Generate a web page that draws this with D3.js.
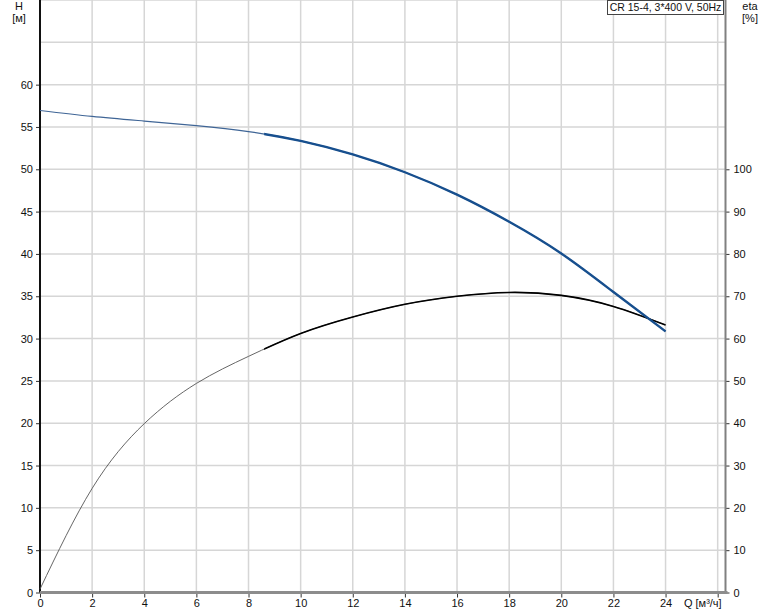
<!DOCTYPE html>
<html>
<head>
<meta charset="utf-8">
<script src="https://cdn.jsdelivr.net/npm/d3@7"></script>
<style>
  body { margin: 0; background: #fff; }
  svg { display: block; font-family: "Liberation Sans", Arial, sans-serif; }
</style>
</head>
<body>
<svg id="chart" width="774" height="611"></svg>
<script>
// pump curve values
var qH = [0, 2, 4, 6, 8, 10, 12, 14, 16, 18, 20, 22, 24];
var headH = [56.95, 56.25, 55.7, 55.15, 54.45, 53.35, 51.75, 49.65, 47.0, 43.8, 40.05, 35.5, 30.85];

var qEta = [0, 2, 4, 6, 8, 10, 12, 14, 16, 18, 20, 22, 24];
var etaVals = [0.8, 24.6, 39.9, 49.4, 55.8, 61.2, 65.1, 68.1, 70.0, 70.9, 70.2, 67.6, 63.2];

var qTicks = [0, 2, 4, 6, 8, 10, 12, 14, 16, 18, 20, 22, 24];
var hTicks = [0, 5, 10, 15, 20, 25, 30, 35, 40, 45, 50, 55, 60];
var etaTicks = [0, 10, 20, 30, 40, 50, 60, 70, 80, 90, 100];
var opStart = 8.6; // start of the bold (operating) part of both curves
var legendText = "CR 15-4, 3*400 V, 50Hz";

var svg = d3.select("#chart");
var plotL = 40, plotR = 725.5, plotB = 592.5, plotT = 0;

var x = d3.scaleLinear().domain([0, 26.3]).range([plotL, plotR]);
var y = d3.scaleLinear().domain([0, 70]).range([plotB, plotT]);
var yEta = d3.scaleLinear().domain([0, 140]).range([plotB, plotT]);

// grid
var grid = svg.append("g").attr("stroke", "#d6d6d6").attr("stroke-width", 1.5);
d3.range(0, 27, 2).forEach(function(q) {
  grid.append("line").attr("x1", x(q)).attr("x2", x(q)).attr("y1", plotT).attr("y2", plotB);
});
d3.range(5, 71, 5).forEach(function(h) {
  grid.append("line").attr("x1", plotL).attr("x2", plotR).attr("y1", y(h)).attr("y2", y(h));
});

// axes
var axL = svg.append("g").attr("transform", "translate(" + plotL + ",0)")
  .call(d3.axisLeft(y).tickValues(hTicks).tickSize(4).tickPadding(3));
var axR = svg.append("g").attr("transform", "translate(" + plotR + ",0)")
  .call(d3.axisRight(yEta).tickValues(etaTicks).tickSize(4).tickPadding(4));
var axB = svg.append("g").attr("transform", "translate(0," + plotB + ")")
  .call(d3.axisBottom(x).tickValues(qTicks.concat([26])).tickSize(5).tickPadding(2)
    .tickFormat(function(d) { return d === 26 ? "" : d; }));

[axL, axR, axB].forEach(function(a) {
  a.selectAll(".domain").remove();
  a.selectAll("text").attr("fill", "#111").style("font-size", "11px").style("font-family", "Liberation Sans, Arial, sans-serif");
  a.selectAll("line").attr("stroke", "#333");
});

svg.append("line").attr("x1", plotL).attr("x2", plotL).attr("y1", plotT).attr("y2", plotB)
  .attr("stroke", "#111").attr("stroke-width", 2);
svg.append("line").attr("x1", plotR).attr("x2", plotR).attr("y1", plotT).attr("y2", plotB)
  .attr("stroke", "#808080").attr("stroke-width", 2);
svg.append("line").attr("x1", plotL).attr("x2", plotR + 2).attr("y1", plotB).attr("y2", plotB)
  .attr("stroke", "#8c8c8c").attr("stroke-width", 3);

// curves
svg.append("defs").append("clipPath").attr("id", "op")
  .append("rect").attr("x", x(opStart)).attr("y", 0).attr("width", plotR - x(opStart)).attr("height", 611);

var lineH = d3.line().curve(d3.curveNatural)
  .x(function(d, i) { return x(qH[i]); }).y(function(d) { return y(d); });
var lineEta = d3.line().curve(d3.curveNatural)
  .x(function(d, i) { return x(qEta[i]); }).y(function(d) { return yEta(d); });

svg.append("path").attr("d", lineEta(etaVals)).attr("fill", "none")
  .attr("stroke", "#555").attr("stroke-width", 0.9);
svg.append("path").attr("d", lineEta(etaVals)).attr("fill", "none")
  .attr("stroke", "#000").attr("stroke-width", 1.6).attr("clip-path", "url(#op)");
svg.append("path").attr("d", lineH(headH)).attr("fill", "none")
  .attr("stroke", "#3f6596").attr("stroke-width", 1.2);
svg.append("path").attr("d", lineH(headH)).attr("fill", "none")
  .attr("stroke", "#174f8e").attr("stroke-width", 2.4).attr("clip-path", "url(#op)");

// labels
var lab = svg.append("g").attr("fill", "#111").style("font-size", "11px").attr("text-anchor", "middle");
lab.append("text").attr("x", 19).attr("y", 10).text("H");
lab.append("text").attr("x", 19).attr("y", 22).text("[м]");
lab.append("text").attr("x", 750).attr("y", 10).text("eta");
lab.append("text").attr("x", 750).attr("y", 22).text("[%]");
lab.append("text").attr("x", x(26) + 4).attr("y", 607).attr("text-anchor", "end").text("Q [м³/ч]");

// legend box
var lg = svg.append("g");
lg.append("rect").attr("x", 607.5).attr("y", 0.5).attr("width", 116).attr("height", 14)
  .attr("fill", "#fff").attr("stroke", "#444");
lg.append("text").attr("x", 665.5).attr("y", 11).attr("text-anchor", "middle").attr("fill", "#111")
  .style("font-size", "10.5px").text(legendText);
</script>
</body>
</html>
